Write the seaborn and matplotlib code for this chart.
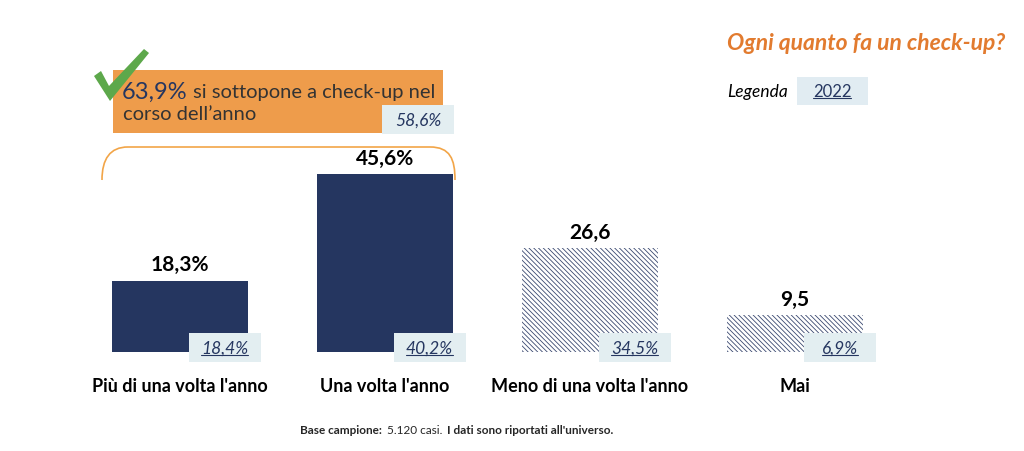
import numpy as np
import pandas as pd
import seaborn as sns
import matplotlib.pyplot as plt
from matplotlib.patches import Rectangle, Polygon, PathPatch
from matplotlib.path import Path

# Dati
categorie = ["Più di una volta l'anno", "Una volta l'anno", "Meno di una volta l'anno", "Mai"]
valori_2024 = [18.3, 45.6, 26.6, 9.5]
etichette_2024 = ["18,3%", "45,6%", "26,6", "9,5"]
etichette_2022 = ["18,4%", "40,2%", "34,5%", "6,9%"]
totale_anno = "63,9%"
totale_2022 = "58,6%"

NAVY = "#253660"
ORANGE = "#EE9C4B"
LIGHT = "#E3EEF1"
W, H = 1024, 452

sns.set_theme(style="white")
plt.rcParams['font.family'] = ['Lato', 'DejaVu Sans']
plt.rcParams['hatch.linewidth'] = 0.6

fig = plt.figure(figsize=(10.24, 4.52), dpi=100)

def fx(x):
    return x / W

def fy(y):
    return 1 - y / H

# assi: baseline a y=353 px, 3.9 px per punto
ax = fig.add_axes([fx(77.5), fy(353), 820 / W, 234 / H])
df = pd.DataFrame({"cat": categorie, "val": valori_2024})
sns.barplot(data=df, x="cat", y="val", color=NAVY, width=0.66, ax=ax,
            saturation=1, linewidth=0)
ax.set_xlim(-0.5, 3.5)
ax.set_ylim(0, 60)
ax.axis("off")

for i, p in enumerate(ax.patches):
    if i >= 2:
        p.set_facecolor("white")
        p.set_edgecolor("#3A4870")
        p.set_hatch("\\\\\\\\\\\\\\")
        p.set_linewidth(0)

# etichette valori
for i, (v, lab) in enumerate(zip(valori_2024, etichette_2024)):
    ax.annotate(lab, (i, v), xytext=(0, 4.5), textcoords="offset points",
                ha="center", va="bottom", fontsize=15, fontweight="bold", color="black")
    ax.text(i, -8.7, categorie[i], ha="center", va="center", fontsize=13,
            fontweight="bold", color="black")

# box 2022
box_texts = []
for i, lab in enumerate(etichette_2022):
    ax.add_patch(Rectangle((i + 0.042, -2.56), 0.351, 7.43, facecolor=LIGHT,
                           edgecolor="none", clip_on=False, zorder=3))
    t = ax.text(i + 0.2175, 1.15, lab, ha="center", va="center", fontsize=12.5,
                style="italic", color=NAVY, zorder=4)
    box_texts.append(t)

# riquadro arancione
fig.patches.append(Rectangle((fx(113), fy(134)), 330 / W, 63 / H, facecolor=ORANGE,
                             edgecolor="none", transform=fig.transFigure, zorder=1))
fig.patches.append(Rectangle((fx(382), fy(135)), 72 / W, 29 / H, facecolor=LIGHT,
                             edgecolor="none", transform=fig.transFigure, zorder=2))
fig.text(fx(122), fy(92), totale_anno, fontsize=17, color=NAVY, va="center", ha="left", zorder=3)
fig.text(fx(193), fy(93), "si sottopone a check-up nel", fontsize=14.5, color="#333333",
         va="center", ha="left", zorder=3)
fig.text(fx(123), fy(115), "corso dell\u2019anno", fontsize=14.5, color="#333333",
         va="center", ha="left", zorder=3)
t58 = fig.text(fx(418), fy(121), totale_2022, fontsize=12.5, style="italic", color=NAVY,
               va="center", ha="center", zorder=3)
box_texts.append(t58)

# spunta verde
check = [(94, 77), (101, 72), (109, 87), (144, 50), (149, 54), (110, 102)]
fig.patches.append(Polygon([(fx(a), fy(b)) for a, b in check], closed=True,
                           facecolor="#5DA84B", edgecolor="none",
                           transform=fig.transFigure, zorder=4))

# parentesi
verts = [(102, 181), (102, 160), (110, 148), (128, 148), (430, 148),
         (450, 148), (455, 160), (455, 181)]
codes = [Path.MOVETO, Path.CURVE4, Path.CURVE4, Path.CURVE4, Path.LINETO,
         Path.CURVE4, Path.CURVE4, Path.CURVE4]
fig.patches.append(PathPatch(Path([(fx(a), fy(b)) for a, b in verts], codes),
                             facecolor="none", edgecolor="#F2A548", linewidth=1.2,
                             transform=fig.transFigure, zorder=2))

# titolo e legenda
fig.text(fx(1005), fy(44), "Ogni quanto fa un check-up?", fontsize=16.5, fontweight="bold",
         style="italic", color="#E27B2F", ha="right", va="center")
fig.text(fx(727), fy(92), "Legenda", fontsize=12.5, style="italic", color="black",
         ha="left", va="center")
fig.patches.append(Rectangle((fx(797), fy(106)), 71 / W, 28 / H, facecolor="#E1ECF2",
                             edgecolor="none", transform=fig.transFigure))
t22 = fig.text(fx(832), fy(92), "2022", fontsize=12, color=NAVY, ha="center", va="center")
box_texts.append(t22)

# nota, pezzi concatenati
fig.canvas.draw()
r = fig.canvas.get_renderer()
x = 300
for testo, peso in [("Base campione:", "bold"), ("5.120 casi.", "normal"),
                    ("I dati sono riportati all'universo.", "bold")]:
    t = fig.text(fx(x), fy(431), testo, fontsize=8.5, fontweight=peso, ha="left", va="center")
    x = t.get_window_extent(r).x1 + 5

# sottolineature
for t in box_texts:
    bb = t.get_window_extent(r)
    y = bb.y0 + 1
    fig.lines.append(plt.Line2D([bb.x0 / W, bb.x1 / W], [y / H, y / H], color=NAVY,
                                linewidth=0.8, transform=fig.transFigure))

fig.savefig("out.png", dpi=100)
